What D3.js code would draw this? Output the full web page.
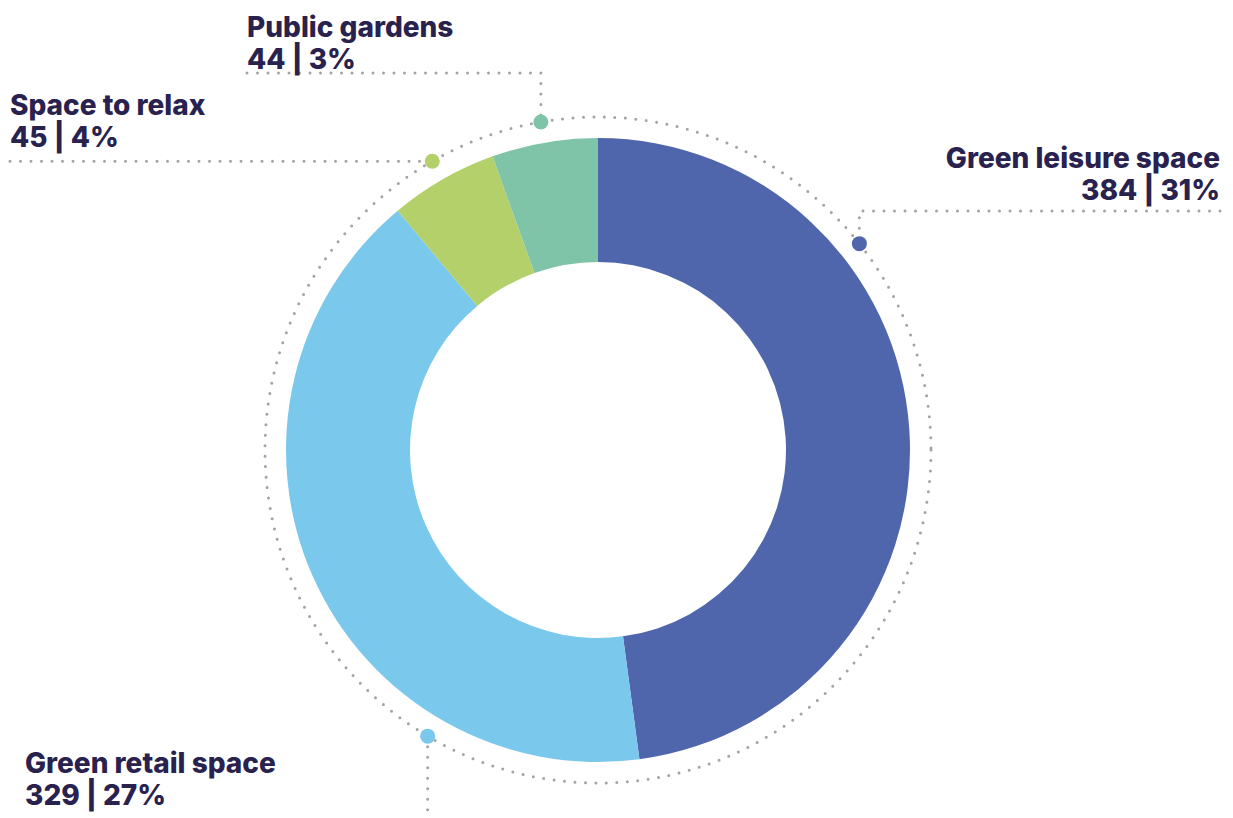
<!DOCTYPE html>
<html>
<head>
<meta charset="utf-8">
<script src="https://cdn.jsdelivr.net/npm/d3@7"></script>
<style>
  html, body { margin: 0; padding: 0; background: #ffffff; }
  svg { display: block; }
  .label { font-family: Inter, "Open Sans", sans-serif; font-weight: 800; fill: #29224f; }
</style>
</head>
<body>
<svg id="chart" width="1233" height="818"></svg>
<script>
// Survey answers: what kind of green space people want
const categories = ["Green leisure space", "Green retail space", "Space to relax", "Public gardens"];
const counts = [384, 329, 45, 44];
const shares = [31, 27, 4, 3]; // percent of all respondents
const colors = ["#5066ac", "#7ac8ec", "#b3d06a", "#7fc4a9"];

// Layout
const W = 1233, H = 818;
const cx = 598, cy = 450;
const outerR = 312, innerR = 188, ringR = 333;
const dotGrey = "#a3a3a3";

// Where each callout attaches along its slice (0 = start, 1 = end) and how it is laid out
const callouts = [
  { along: 0.30, kind: "right-top" },
  { along: 0.26, kind: "down" },
  { along: 0.50, kind: "left" },
  { along: 0.50, kind: "top-left" }
];

const svg = d3.select("#chart");
const defs = svg.append("defs");

const data = categories.map((c, i) => ({ name: c, count: counts[i], share: shares[i], color: colors[i], i }));

const pie = d3.pie().sort(null).value(d => d.count);
const arcs = pie(data);
const arc = d3.arc().innerRadius(innerR).outerRadius(outerR);

// Soft inner shading on each slice
data.forEach(d => {
  const g = defs.append("radialGradient")
    .attr("id", "shade" + d.i)
    .attr("gradientUnits", "userSpaceOnUse")
    .attr("cx", cx).attr("cy", cy).attr("r", outerR);
  g.append("stop").attr("offset", innerR / outerR).attr("stop-color", d3.color(d.color).darker(0.45));
  g.append("stop").attr("offset", 0.76).attr("stop-color", d.color);
  g.append("stop").attr("offset", 1).attr("stop-color", d.color);
});

const dotted = sel => sel
  .attr("fill", "none")
  .attr("stroke", dotGrey)
  .attr("stroke-width", 3)
  .attr("stroke-linecap", "round")
  .attr("stroke-dasharray", "0 10.5");

// Dotted guide ring
svg.append("circle")
  .attr("cx", cx).attr("cy", cy).attr("r", ringR)
  .call(dotted);

const ring = svg.append("g").attr("transform", `translate(${cx},${cy})`);
ring.selectAll("path.slice")
  .data(arcs)
  .join("path")
  .attr("class", "slice")
  .attr("d", arc)
  .attr("fill", d => `url(#shade${d.data.i})`);

// Callouts
const pt = (a, r) => [cx + r * Math.sin(a), cy - r * Math.cos(a)];

arcs.forEach((a, i) => {
  const c = callouts[i];
  const ang = a.startAngle + (a.endAngle - a.startAngle) * c.along;
  const [dx, dy] = pt(ang, ringR);
  const d = a.data;
  const g = svg.append("g");
  let pts, tx, anchor, y1;

  if (c.kind === "right-top") {
    const ly = 211;
    pts = [[1220, ly], [dx, ly], [dx, dy]];
    tx = 1220; anchor = "end"; y1 = ly - 43;
  } else if (c.kind === "down") {
    pts = [[dx, dy], [dx, 815]];
    tx = 25; anchor = "start"; y1 = 773;
  } else if (c.kind === "left") {
    pts = [[10, dy], [dx, dy]];
    tx = 10; anchor = "start"; y1 = dy - 46;
  } else {
    const ly = 73;
    pts = [[247, ly], [dx, ly], [dx, dy]];
    tx = 247; anchor = "start"; y1 = ly - 36;
  }

  g.append("path")
    .attr("d", d3.line()(pts))
    .call(dotted);

  g.append("circle")
    .attr("cx", dx).attr("cy", dy).attr("r", 7.5)
    .attr("fill", d.color);

  const t = g.append("text")
    .attr("class", "label")
    .attr("text-anchor", anchor)
    .attr("font-size", 28);
  t.append("tspan").attr("x", tx).attr("y", y1).text(d.name);
  t.append("tspan").attr("x", tx).attr("y", y1 + 32).text(`${d.count} | ${d.share}%`);
});
</script>
</body>
</html>
